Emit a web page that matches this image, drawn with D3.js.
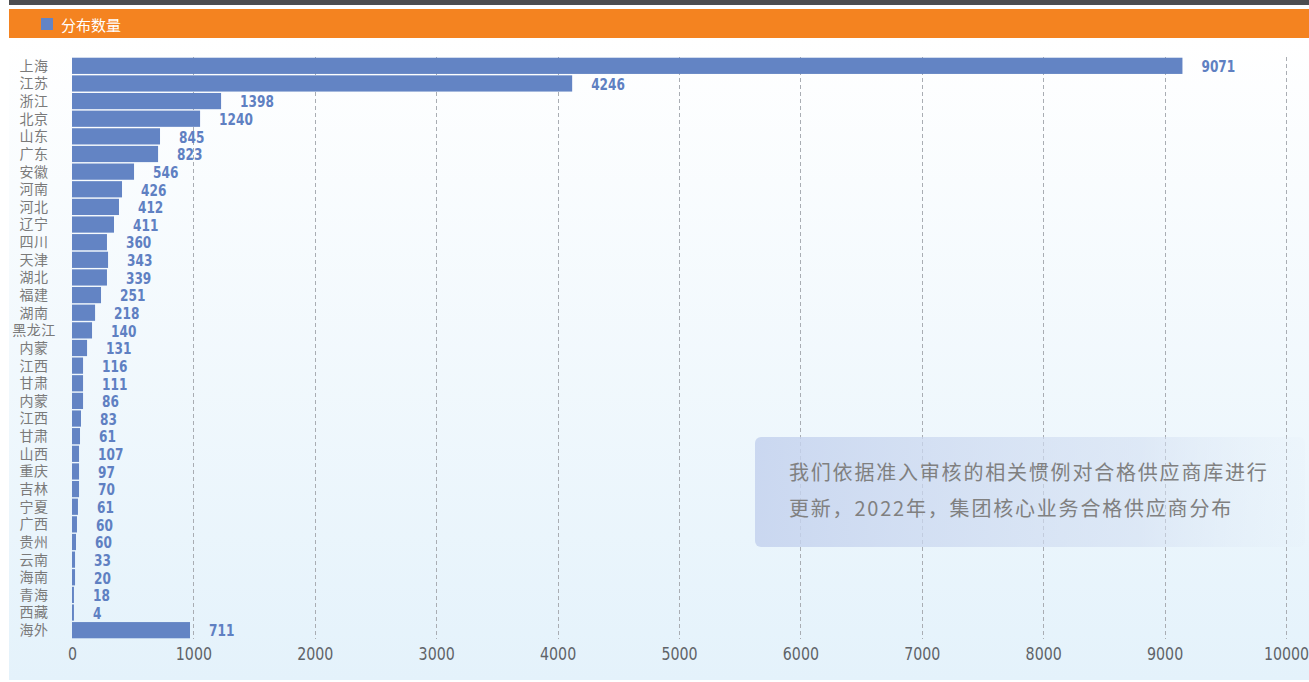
<!DOCTYPE html>
<html>
<head>
<meta charset="utf-8">
<script src="https://cdn.jsdelivr.net/npm/d3@7"></script>
<style>
	body { margin: 0; background: #fff; }
	svg { display: block; }
</style>
</head>
<body>
<div id="chart"></div>
<script>
(function() {
	var width = 1309,
		height = 682;

	// provinces (names repeat, so the scale runs on the index)
	var provinces = ["上海", "江苏", "浙江", "北京", "山东", "广东", "安徽", "河南", "河北", "辽宁",
		"四川", "天津", "湖北", "福建", "湖南", "黑龙江", "内蒙", "江西", "甘肃", "内蒙",
		"江西", "甘肃", "山西", "重庆", "吉林", "宁夏", "广西", "贵州", "云南", "海南",
		"青海", "西藏", "海外"];

	// bar lengths as drawn in the picture
	var barValues = [9147, 4120, 1228, 1055, 725, 709, 511, 412, 387, 346,
		288, 297, 288, 239, 190, 165, 124, 91, 91, 91,
		74, 66, 58, 58, 58, 49, 41, 33, 25, 25,
		16, 16, 972];

	// numbers printed next to the bars
	var labelValues = [9071, 4246, 1398, 1240, 845, 823, 546, 426, 412, 411,
		360, 343, 339, 251, 218, 140, 131, 116, 111, 86,
		83, 61, 107, 97, 70, 61, 60, 60, 33, 20,
		18, 4, 711];

	var xTicks = [0, 1000, 2000, 3000, 4000, 5000, 6000, 7000, 8000, 9000, 10000];

	var legendText = "分布数量";
	var noteLines = ["我们依据准入审核的相关惯例对合格供应商库进行", "更新，2022年，集团核心业务合格供应商分布"];

	var barColor = "#6384c4";
	var numFont = "'DejaVu Sans Condensed', 'DejaVu Sans', sans-serif";

	var svg = d3.select("#chart")
		.append("svg")
		.attr("width", width)
		.attr("height", height);

	var defs = svg.append("defs");

	var bg = defs.append("linearGradient")
		.attr("id", "bg-grad")
		.attr("x1", 0).attr("y1", 0).attr("x2", 0).attr("y2", 1);
	bg.append("stop").attr("offset", "0%").attr("stop-color", "#ffffff");
	bg.append("stop").attr("offset", "100%").attr("stop-color", "#e4f2fb");

	var noteGrad = defs.append("linearGradient")
		.attr("id", "note-grad")
		.attr("x1", 0).attr("y1", 0).attr("x2", 1).attr("y2", 0);
	noteGrad.append("stop").attr("offset", "0%").attr("stop-color", "#c4d2ee").attr("stop-opacity", 0.85);
	noteGrad.append("stop").attr("offset", "70%").attr("stop-color", "#d3dff2").attr("stop-opacity", 0.6);
	noteGrad.append("stop").attr("offset", "100%").attr("stop-color", "#e2ecf7").attr("stop-opacity", 0.15);

	// frame: dark strip, orange header, panel
	svg.append("rect")
		.attr("x", 9).attr("y", 0)
		.attr("width", width - 9).attr("height", 5)
		.attr("fill", "#4d4d4f");

	svg.append("rect")
		.attr("x", 9).attr("y", 38)
		.attr("width", width - 9).attr("height", 642)
		.attr("fill", "url(#bg-grad)");

	svg.append("rect")
		.attr("x", 9).attr("y", 9)
		.attr("width", width - 9).attr("height", 29)
		.attr("fill", "#f48320");

	// legend in the header
	svg.append("rect")
		.attr("x", 41).attr("y", 18)
		.attr("width", 12).attr("height", 12)
		.attr("fill", barColor);

	svg.append("text")
		.attr("x", 61).attr("y", 24)
		.attr("dominant-baseline", "central")
		.attr("font-family", "'Noto Sans CJK SC', sans-serif")
		.attr("font-size", 15)
		.attr("fill", "#ffffff")
		.text(legendText);

	var x = d3.scaleLinear()
		.domain([0, 10000])
		.range([72, 1286]);

	var y = d3.scaleBand()
		.domain(d3.range(provinces.length))
		.range([57, 639])
		.paddingInner(0.08)
		.paddingOuter(0.04);

	// dashed grid
	svg.append("g")
		.selectAll("line")
		.data(xTicks.slice(1))
		.enter().append("line")
		.attr("x1", function(d){ return Math.round(x(d)) + 0.5 })
		.attr("x2", function(d){ return Math.round(x(d)) + 0.5 })
		.attr("y1", 57)
		.attr("y2", 639)
		.attr("stroke", "#a9adb3")
		.attr("stroke-width", 1)
		.attr("stroke-dasharray", "4,3");

	// bars
	svg.append("g")
		.selectAll("rect")
		.data(barValues)
		.enter().append("rect")
		.attr("x", x(0))
		.attr("y", function(d, i){ return y(i) })
		.attr("width", function(d){ return Math.max(1.5, x(d) - x(0)) })
		.attr("height", y.bandwidth())
		.attr("fill", barColor);

	// value labels (narrowed to look like the condensed face of the original)
	svg.append("g")
		.selectAll("g")
		.data(labelValues)
		.enter().append("g")
		.attr("transform", function(d, i){
			return "translate(" + (x(barValues[i]) + 19) + "," + (y(i) + y.bandwidth() / 2 + 1) + ")"
		})
		.append("text")
		.attr("transform", "scale(0.9,1)")
		.attr("dominant-baseline", "central")
		.attr("font-family", numFont)
		.attr("font-weight", "bold")
		.attr("font-size", 15)
		.attr("fill", "#5f80c2")
		.text(function(d){ return d });

	// category axis
	var yAxis = d3.axisLeft(y)
		.tickSize(0)
		.tickFormat(function(i){ return provinces[i] });

	var yG = svg.append("g")
		.attr("transform", "translate(34,0)")
		.call(yAxis);
	yG.select(".domain").remove();
	yG.selectAll("text")
		.attr("x", 0)
		.attr("dy", "0.35em")
		.attr("text-anchor", "middle")
		.attr("font-family", "'Noto Sans CJK SC', sans-serif")
		.attr("font-size", 14)
		.attr("letter-spacing", 0.5)
		.attr("fill", "#7a7a7a");

	// value axis
	var xAxis = d3.axisBottom(x)
		.tickValues(xTicks)
		.tickFormat(d3.format("d"))
		.tickSize(0)
		.tickPadding(0);

	var xG = svg.append("g")
		.attr("transform", "translate(0,654)")
		.call(xAxis);
	xG.select(".domain").remove();
	xG.selectAll("text")
		.attr("y", 0)
		.attr("dy", "0.36em")
		.attr("transform", "scale(0.93,1)")
		.attr("font-family", numFont)
		.attr("font-size", 17)
		.attr("fill", "#5f6368");

	// note box
	svg.append("rect")
		.attr("x", 755).attr("y", 437)
		.attr("width", 550).attr("height", 110)
		.attr("rx", 6)
		.attr("fill", "url(#note-grad)");

	svg.append("g")
		.selectAll("text")
		.data(noteLines)
		.enter().append("text")
		.attr("x", 789)
		.attr("y", function(d, i){ return 471 + i * 36 })
		.attr("dominant-baseline", "central")
		.attr("font-family", "'Noto Sans CJK SC', sans-serif")
		.attr("font-size", 20)
		.attr("letter-spacing", 1.8)
		.attr("fill", "#808080")
		.text(function(d){ return d });
})();
</script>
</body>
</html>
